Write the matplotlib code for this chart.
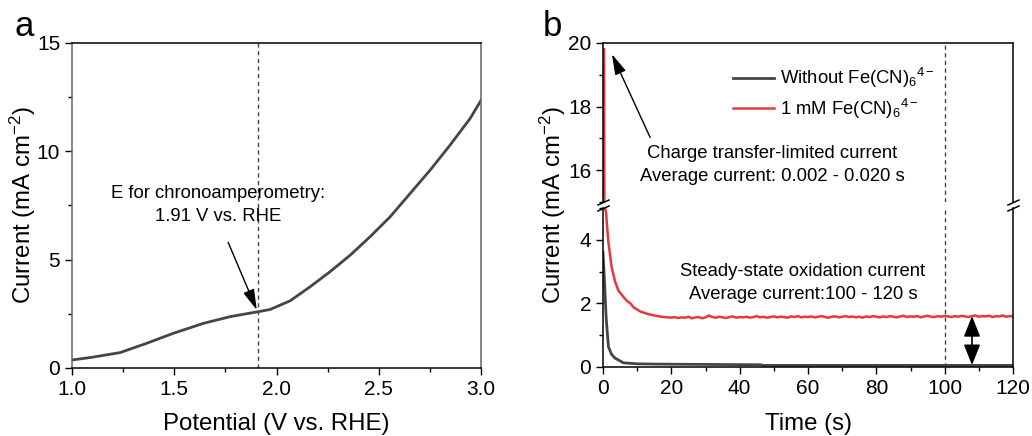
import numpy as np
import matplotlib
matplotlib.use("Agg")
import matplotlib.pyplot as plt
from matplotlib.ticker import MultipleLocator, FormatStrFormatter

plt.rcParams['font.family'] = ['Liberation Sans', 'DejaVu Sans']
plt.rcParams['mathtext.fontset'] = 'custom'
plt.rcParams['mathtext.rm'] = 'Liberation Sans'
plt.rcParams['mathtext.it'] = 'Liberation Sans:italic'
plt.rcParams['mathtext.default'] = 'regular'

# panel a: LSV curve
potential = [1.0, 1.088, 1.235, 1.365, 1.495, 1.642, 1.773, 1.911, 1.968, 2.066,
             2.164, 2.262, 2.36, 2.457, 2.555, 2.653, 2.751, 2.848, 2.946, 3.0]
current_a = [0.37, 0.48, 0.71, 1.14, 1.6, 2.06, 2.37, 2.6, 2.7, 3.1,
             3.75, 4.45, 5.21, 6.06, 6.98, 8.06, 9.14, 10.29, 11.52, 12.37]
e_chrono = 1.91

# panel b: chronoamperometry
t_black = [0.0, 0.3, 0.6, 0.9, 1.1, 1.6, 2.5, 3.5, 6, 10, 16, 46, 47, 120]
i_black = [3.6, 3.0, 2.3, 1.6, 1.3, 0.63, 0.4, 0.28, 0.13, 0.1, 0.09, 0.07, 0.05, 0.05]

t_red_decay = [0.3, 0.6, 0.9, 1.5, 2.5, 3.5, 4.5, 6, 7, 8, 9, 11, 13, 15, 17, 18]
i_red_decay = [19.8, 5.0, 4.85, 4.0, 3.15, 2.7, 2.4, 2.2, 2.08, 2.0, 1.87, 1.74, 1.67, 1.62, 1.58, 1.57]
t_red_steady = np.arange(19, 121)
i_red_steady = [
    1.56, 1.55, 1.57, 1.54, 1.56, 1.55, 1.58, 1.53, 1.56, 1.57,
    1.53, 1.56, 1.62, 1.57, 1.55, 1.58, 1.56, 1.54, 1.57, 1.59,
    1.55, 1.57, 1.56, 1.58, 1.55, 1.57, 1.60, 1.56, 1.58, 1.55,
    1.57, 1.59, 1.56, 1.58, 1.57, 1.55, 1.59, 1.57, 1.60, 1.56,
    1.58, 1.57, 1.59, 1.56, 1.58, 1.60, 1.57, 1.55, 1.58, 1.59,
    1.56, 1.58, 1.60, 1.57, 1.59, 1.56, 1.58, 1.55, 1.59, 1.57,
    1.60, 1.58, 1.56, 1.59, 1.57, 1.60, 1.58, 1.56, 1.59, 1.61,
    1.57, 1.59, 1.58, 1.60, 1.56, 1.59, 1.61, 1.58, 1.57, 1.60,
    1.58, 1.61, 1.59, 1.57, 1.60, 1.58, 1.61, 1.59, 1.57, 1.60,
    1.62, 1.58, 1.60, 1.59, 1.61, 1.57, 1.60, 1.59, 1.62, 1.58,
    1.60, 1.59]
t_red = list(t_red_decay) + list(t_red_steady)
i_red = list(i_red_decay) + i_red_steady
t_avg = 100
arrow_t = 108

TICK_FS = 15
LABEL_FS = 17.3
NOTE_FS = 13.3
RED = '#e8383b'
DARK = '#454545'
ARROW = dict(arrowstyle='-|>,head_length=0.9,head_width=0.25',
             color='black', lw=1, mutation_scale=14, shrinkA=0, shrinkB=0)

fig = plt.figure(figsize=(10.32, 4.36), dpi=100)

def style(ax):
    ax.tick_params(which='both', direction='out', labelsize=TICK_FS, top=False, right=False, width=1)
    ax.tick_params(which='major', length=5)
    ax.tick_params(which='minor', length=3)
    for s in ax.spines.values():
        s.set_linewidth(1.1)

# ---- panel a
ax1 = fig.add_axes([0.0698, 0.156, 0.3965, 0.7454])
ax1.plot(potential, current_a, color=DARK, lw=2, solid_joinstyle='round')
ax1.axvline(e_chrono, color=DARK, lw=1, ls=(0, (3, 2.5)))
ax1.set_xlim(1.0, 3.0)
ax1.set_ylim(0, 15)
ax1.xaxis.set_major_locator(MultipleLocator(0.5))
ax1.xaxis.set_minor_locator(MultipleLocator(0.25))
ax1.yaxis.set_major_locator(MultipleLocator(5))
ax1.yaxis.set_minor_locator(MultipleLocator(2.5))
ax1.xaxis.set_major_formatter(FormatStrFormatter('%.1f'))
style(ax1)
ax1.spines['left'].set_color('#666666')
ax1.spines['right'].set_color('#666666')
ax1.set_xlabel('Potential (V vs. RHE)', fontsize=LABEL_FS)
ax1.set_ylabel('Current (mA cm$^{-2}$)', fontsize=LABEL_FS)
ax1.xaxis.set_label_coords(0.5, -0.14)
ax1.yaxis.set_label_coords(-0.083, 0.5)
ax1.text(1.714, 8.07, 'E for chronoamperometry:', fontsize=NOTE_FS, ha='center', va='center')
ax1.text(1.714, 6.97, '1.91 V vs. RHE', fontsize=NOTE_FS, ha='center', va='center')
ax1.annotate('', xy=(1.903, 2.68), xytext=(1.763, 5.8), arrowprops=ARROW)

# ---- panel b (broken axis)
ax_top = fig.add_axes([0.5843, 0.5367, 0.3973, 0.3647])
ax_bot = fig.add_axes([0.5843, 0.1583, 0.3973, 0.3647])
for ax in (ax_top, ax_bot):
    l1, = ax.plot(t_black, i_black, color=DARK, lw=2, label='Without Fe(CN)$_6$$^{4-}$')
    l2, = ax.plot(t_red, i_red, color=RED, lw=1.8, label='1 mM Fe(CN)$_6$$^{4-}$')
    ax.axvline(t_avg, color=DARK, lw=1, ls=(0, (3, 2.5)))
    ax.set_xlim(0, 120)
    style(ax)
ax_top.set_ylim(15, 20)
ax_bot.set_ylim(0, 5)
ax_top.spines['bottom'].set_visible(False)
ax_bot.spines['top'].set_visible(False)
ax_top.tick_params(axis='x', which='both', bottom=False, labelbottom=False)
ax_top.set_yticks([16, 18, 20])
ax_top.yaxis.set_minor_locator(MultipleLocator(1))
ax_bot.set_yticks([0, 2, 4])
ax_bot.yaxis.set_minor_locator(MultipleLocator(1))
ax_bot.xaxis.set_major_locator(MultipleLocator(20))
ax_bot.xaxis.set_minor_locator(MultipleLocator(10))

# break marks
kw = dict(marker=[(-1, -0.45), (1, 0.45)], markersize=9, linestyle='none',
          color='k', mec='k', mew=1.1, clip_on=False)
ax_top.plot([0, 1], [0, 0], transform=ax_top.transAxes, **kw)
ax_bot.plot([0, 1], [1, 1], transform=ax_bot.transAxes, **kw)

ax_bot.set_xlabel('Time (s)', fontsize=LABEL_FS)
ax_bot.xaxis.set_label_coords(0.5, -0.29)
ax_bot.set_ylabel('Current (mA cm$^{-2}$)', fontsize=LABEL_FS)
ax_bot.yaxis.set_label_coords(-0.086, 1.02)

ax_top.legend(handles=[l1, l2], loc='upper left', bbox_to_anchor=(0.3, 0.9),
              frameon=False, fontsize=NOTE_FS, handlelength=2.2, handletextpad=0.3,
              labelspacing=0.35, borderaxespad=0)

ax_top.text(49.5, 16.53, 'Charge transfer-limited current', fontsize=NOTE_FS, ha='center', va='center')
ax_top.text(49.5, 15.81, 'Average current: 0.002 - 0.020 s', fontsize=NOTE_FS, ha='center', va='center')
ax_top.annotate('', xy=(2.6, 19.65), xytext=(13.8, 17.03), arrowprops=ARROW)

ax_bot.text(58.5, 3.0, 'Steady-state oxidation current', fontsize=NOTE_FS, ha='center', va='center')
ax_bot.text(58.5, 2.28, 'Average current:100 - 120 s', fontsize=NOTE_FS, ha='center', va='center')
ax_bot.annotate('', xy=(arrow_t, 0.06), xytext=(arrow_t, 1.6),
                arrowprops=dict(arrowstyle='<|-|>,head_length=0.7,head_width=0.28',
                                color='black', lw=1.2, mutation_scale=18, shrinkA=0, shrinkB=0))

fig.text(14 / 1032, 1 - 36 / 436, 'a', fontsize=25, va='baseline')
fig.text(543 / 1032, 1 - 36 / 436, 'b', fontsize=25, va='baseline')

fig.savefig('out.png', dpi=100)
